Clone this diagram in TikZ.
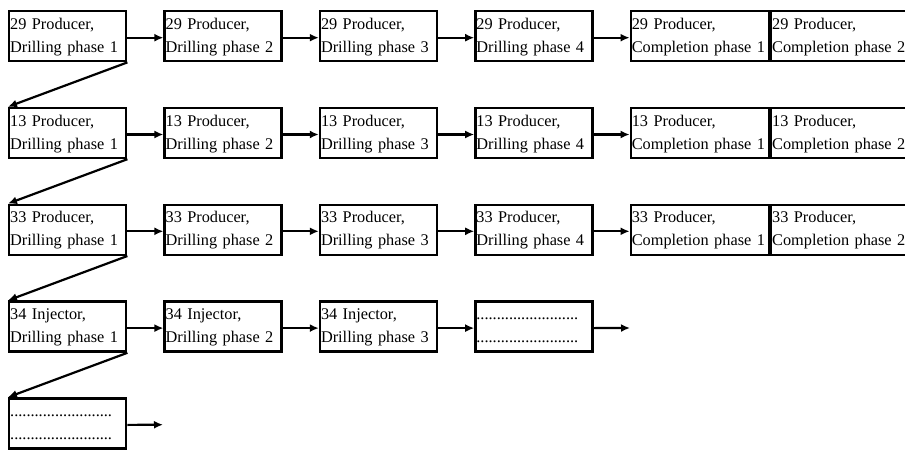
\documentclass[tikz,border=0pt]{standalone}
\usepackage{fontspec}
\setmainfont{Liberation Serif}
\usetikzlibrary{
    arrows.meta,
    positioning
}
\tikzset{stagebox/.style={rectangle, draw=black, line width=2.4pt, anchor=north west, text width=115pt, minimum height=50pt, inner xsep=1pt, inner ysep=0pt, align=left, font=\fontsize{16.3}{23}\selectfont}}
\tikzset{compbox/.style={stagebox, text width=136pt}}
\tikzset{flow/.style={line width=2.2pt, -{Latex[length=9pt, width=8pt]}}}

\begin{document}
\begin{tikzpicture}[x=1pt, y=1pt, node distance=36pt]
    \useasboundingbox (0, 0) rectangle (905, -450);

    % well 29
    \node[stagebox] (p29a) at (8, -10) {\strut 29 Producer,\\\strut Drilling phase 1};
    \node[stagebox, right=of p29a] (p29b) {\strut 29 Producer,\\\strut Drilling phase 2};
    \node[stagebox, right=of p29b] (p29c) {\strut 29 Producer,\\\strut Drilling phase 3};
    \node[stagebox, right=of p29c] (p29d) {\strut 29 Producer,\\\strut Drilling phase 4};
    \node[compbox, right=of p29d] (p29e) {\strut 29 Producer,\\\strut Completion phase 1};
    \node[compbox, right=0pt of p29e] (p29f) {\strut 29 Producer,\\\strut Completion phase 2};

    % well 13
    \node[stagebox] (p13a) at (8, -106.8) {\strut 13 Producer,\\\strut Drilling phase 1};
    \node[stagebox, right=of p13a] (p13b) {\strut 13 Producer,\\\strut Drilling phase 2};
    \node[stagebox, right=of p13b] (p13c) {\strut 13 Producer,\\\strut Drilling phase 3};
    \node[stagebox, right=of p13c] (p13d) {\strut 13 Producer,\\\strut Drilling phase 4};
    \node[compbox, right=of p13d] (p13e) {\strut 13 Producer,\\\strut Completion phase 1};
    \node[compbox, right=0pt of p13e] (p13f) {\strut 13 Producer,\\\strut Completion phase 2};

    % well 33
    \node[stagebox] (p33a) at (8, -203.6) {\strut 33 Producer,\\\strut Drilling phase 1};
    \node[stagebox, right=of p33a] (p33b) {\strut 33 Producer,\\\strut Drilling phase 2};
    \node[stagebox, right=of p33b] (p33c) {\strut 33 Producer,\\\strut Drilling phase 3};
    \node[stagebox, right=of p33c] (p33d) {\strut 33 Producer,\\\strut Drilling phase 4};
    \node[compbox, right=of p33d] (p33e) {\strut 33 Producer,\\\strut Completion phase 1};
    \node[compbox, right=0pt of p33e] (p33f) {\strut 33 Producer,\\\strut Completion phase 2};

    % well 34
    \node[stagebox] (i34a) at (8, -300.4) {\strut 34 Injector,\\\strut Drilling phase 1};
    \node[stagebox, right=of i34a] (i34b) {\strut 34 Injector,\\\strut Drilling phase 2};
    \node[stagebox, right=of i34b] (i34c) {\strut 34 Injector,\\\strut Drilling phase 3};
    \node[stagebox, right=of i34c] (i34d) {\strut .........................\\\strut .........................};
    \coordinate (i34end) at (630, -328);

    % next well
    \node[stagebox] (nexta) at (8, -397.2) {\strut .........................\\\strut .........................};
    \coordinate (nextend) at (163, -424.7);

    \draw[flow] ([yshift=-1.5pt]p29a.east) -- ([yshift=-1.5pt]p29b.west);
    \draw[flow] ([yshift=-1.5pt]p29b.east) -- ([yshift=-1.5pt]p29c.west);
    \draw[flow] ([yshift=-1.5pt]p29c.east) -- ([yshift=-1.5pt]p29d.west);
    \draw[flow] ([yshift=-1.5pt]p29d.east) -- ([yshift=-1.5pt]p29e.west);

    \draw[flow] ([yshift=-1.5pt]p13a.east) -- ([yshift=-1.5pt]p13b.west);
    \draw[flow] ([yshift=-1.5pt]p13b.east) -- ([yshift=-1.5pt]p13c.west);
    \draw[flow] ([yshift=-1.5pt]p13c.east) -- ([yshift=-1.5pt]p13d.west);
    \draw[flow] ([yshift=-1.5pt]p13d.east) -- ([yshift=-1.5pt]p13e.west);

    \draw[flow] ([yshift=-1.5pt]p33a.east) -- ([yshift=-1.5pt]p33b.west);
    \draw[flow] ([yshift=-1.5pt]p33b.east) -- ([yshift=-1.5pt]p33c.west);
    \draw[flow] ([yshift=-1.5pt]p33c.east) -- ([yshift=-1.5pt]p33d.west);
    \draw[flow] ([yshift=-1.5pt]p33d.east) -- ([yshift=-1.5pt]p33e.west);

    \draw[flow] ([yshift=-1.5pt]i34a.east) -- ([yshift=-1.5pt]i34b.west);
    \draw[flow] ([yshift=-1.5pt]i34b.east) -- ([yshift=-1.5pt]i34c.west);
    \draw[flow] ([yshift=-1.5pt]i34c.east) -- ([yshift=-1.5pt]i34d.west);
    \draw[flow] ([yshift=-1.5pt]i34d.east) -- (i34end);

    \draw[flow] ([yshift=-1.5pt]nexta.east) -- (nextend);

    % to the next well
    \draw[flow] (p29a.south east) -- (p13a.north west);
    \draw[flow] (p13a.south east) -- (p33a.north west);
    \draw[flow] (p33a.south east) -- (i34a.north west);
    \draw[flow] (i34a.south east) -- (nexta.north west);
\end{tikzpicture}
\end{document}
